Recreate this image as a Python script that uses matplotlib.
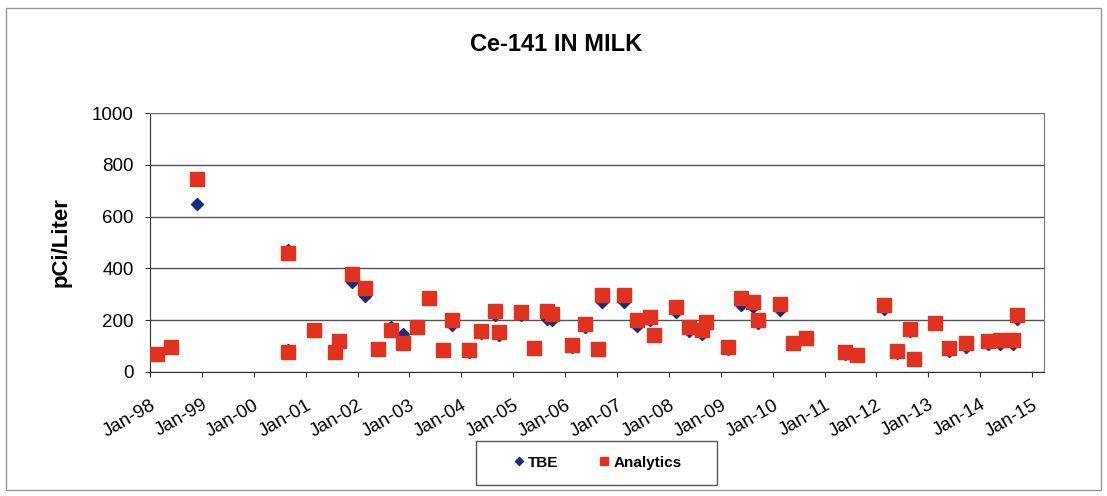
import matplotlib.pyplot as plt
import matplotlib.dates as mdates
import pandas as pd
from matplotlib.patches import Rectangle

plt.rcParams['font.family'] = ['Liberation Sans', 'DejaVu Sans']

# sample dates
dates = ["1998-02-21", "1998-05-27", "1998-11-28", "2000-08-29", "2000-08-29",
         "2001-02-25", "2001-07-27", "2001-08-25", "2001-11-24", "2002-02-25",
         "2002-05-27", "2002-08-25", "2002-11-20", "2003-02-21", "2003-05-22",
         "2003-08-25", "2003-10-27", "2004-02-21", "2004-05-22", "2004-08-25",
         "2004-09-24", "2005-02-21", "2005-05-27", "2005-08-29", "2005-10-01",
         "2006-02-21", "2006-05-22", "2006-08-22", "2006-09-20", "2007-02-21",
         "2007-05-22", "2007-08-18", "2007-09-20", "2008-02-17", "2008-05-22",
         "2008-08-22", "2008-09-20", "2009-02-21", "2009-05-22", "2009-08-18",
         "2009-09-20", "2010-02-21", "2010-05-22", "2010-08-22", "2011-05-22",
         "2011-08-15", "2012-02-25", "2012-05-22", "2012-08-22", "2012-09-20",
         "2013-02-17", "2013-05-27", "2013-09-24", "2014-02-25", "2014-05-22",
         "2014-08-18", "2014-09-20"]

tbe = [65, 92, 647, 472, 85, 160, 72, 118, 349, 295,
       84, 172, 145, 170, 282, 86, 182, 76, 150, 222,
       143, 222, 92, 205, 200, 95, 175, 88, 270, 270,
       178, 200, 138, 230, 160, 145, 190, 88, 260, 250,
       188, 240, 108, 128, 68, 64, 243, 72, 160, 48,
       185, 82, 98, 108, 108, 110, 203]

analytics = [69, 98, 745, 458, 77, 162, 76, 121, 378, 325,
             89, 161, 113, 172, 284, 86, 200, 85, 158, 237,
             156, 230, 94, 235, 225, 104, 184, 88, 297, 298,
             200, 211, 143, 252, 175, 162, 194, 95, 284, 271,
             200, 261, 111, 130, 78, 66, 259, 82, 165, 50,
             188, 91, 111, 120, 124, 124, 220]

x = pd.to_datetime(dates)

fig = plt.figure(figsize=(11.07, 4.96), dpi=100)
ax = fig.add_axes([0.1355, 0.25, 0.8075, 0.522])

ax.plot(x, tbe, linestyle='none', marker='D', markersize=6.5,
        color='#1c2a7a', label='TBE', zorder=3)
ax.plot(x, analytics, linestyle='none', marker='s', markersize=10,
        color='#e0321f', label='Analytics', zorder=4)

ax.set_ylim(0, 1000)
ax.set_yticks(range(0, 1001, 200))
ax.set_xlim(pd.Timestamp("1998-01-01"), pd.Timestamp("2015-03-25"))
ax.xaxis.set_major_locator(mdates.YearLocator(1, month=1, day=1))
ax.xaxis.set_major_formatter(mdates.DateFormatter('%b-%y'))

ax.grid(axis='y', color='#555555', linewidth=1)
ax.set_axisbelow(True)
for s in ax.spines.values():
    s.set_color('#777777')
ax.spines['left'].set_color('#333333')
ax.spines['bottom'].set_color('#333333')

ax.tick_params(axis='both', labelsize=13.5, length=3.6, color='#333333')
ax.tick_params(axis='y', pad=8)
ax.tick_params(axis='x', pad=14)
plt.setp(ax.get_xticklabels(), rotation=30, ha='right', rotation_mode='anchor')

ax.set_ylabel('pCi/Liter', fontsize=16, fontweight='bold', labelpad=15)
fig.text(0.502, 0.91, 'Ce-141 IN MILK', ha='center', va='center',
         fontsize=17, fontweight='bold')

# legend box drawn separately so it can be wider than its contents
fig.patches.append(Rectangle((0.430, 0.022), 0.218, 0.089, transform=fig.transFigure,
                             fill=False, edgecolor='#555555', linewidth=1))
fig.legend(loc='center', bbox_to_anchor=(0.540, 0.067), ncol=2, frameon=False,
           prop={'size': 11, 'weight': 'bold'}, markerscale=0.6,
           handlelength=0.6, handletextpad=0.3, columnspacing=2.7)

# outer chart frame
fig.patches.append(Rectangle((0.005, 0.012), 0.99, 0.972, transform=fig.transFigure,
                             fill=False, edgecolor='#999999', linewidth=1))

fig.savefig('out.png', dpi=100)
